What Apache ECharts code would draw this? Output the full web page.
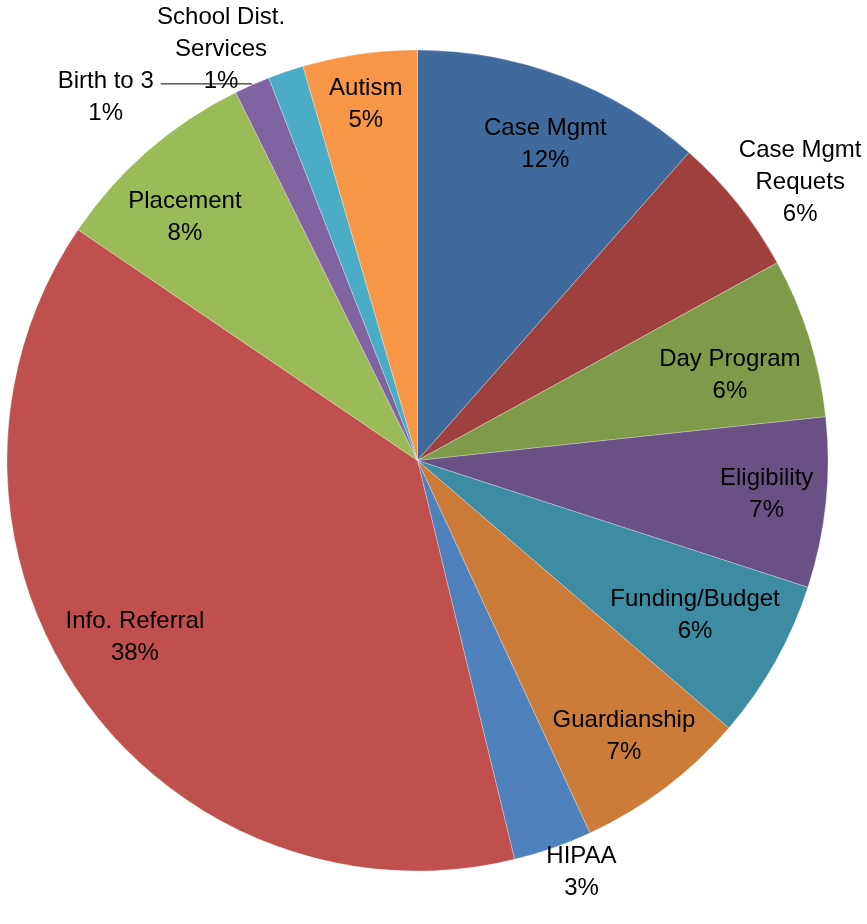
<!DOCTYPE html>
<html>
<head>
<meta charset="utf-8">
<title>Requests by category</title>
<script src="https://cdn.jsdelivr.net/npm/echarts@6/dist/echarts.min.js"></script>
<style>
  html, body { margin: 0; padding: 0; background: #fff; }
  #chart { width: 867px; height: 924px; }
</style>
</head>
<body>
<div id="chart"></div>
<script>
// slices, clockwise from 12 o'clock
const categories = [
    'Case Mgmt', 'Case Mgmt Requets', 'Day Program', 'Eligibility',
    'Funding/Budget', 'Guardianship', 'HIPAA', 'Info. Referral',
    'Placement', 'Birth to 3', 'School Dist. Services', 'Autism'
];
// share of requests (%)
const shares = [11.5, 5.5, 6.3, 6.7, 6.3, 6.8, 3.1, 38.3, 8.2, 1.4, 1.4, 4.5];

const colors = [
    '#416a9c', '#9e413e', '#7f9a48', '#695185', '#3d8ca3', '#cc7b38',
    '#4f81bd', '#c0504d', '#9bbb59', '#8064a2', '#4bacc6', '#f79646'
];

const FONT = '"Liberation Sans", Arial, sans-serif';
const CENTER = [417.5, 460.5];
const R = 410.5;

const wrapped = {
    'Case Mgmt Requets': 'Case Mgmt\nRequets',
    'School Dist. Services': 'School Dist.\nServices'
};
const labelName = name => wrapped[name] || name;
const pctText = p => Math.round(p.percent) + '%';

// labels that sit outside the pie
const outside = {
    'Case Mgmt Requets': { len: 35, len2: -30, width: 120 },
    'HIPAA': { len: 26, len2: -45, width: 120 },
    'School Dist. Services': { len: 24, len2: -13, width: 130 },
    'Birth to 3': { len: 1, len2: 91, width: 100, line: true, padTop: 27 }
};

// little shifts for the labels inside the slices
const insideNudge = {
    'Case Mgmt': [8, 1],
    'Day Program': [-11, 17],
    'Eligibility': [12, -1],
    'Funding/Budget': [-18, -11],
    'Guardianship': [2, 5],
    'Info. Referral': [-4, -16],
    'Placement': [-10, 13],
    'Autism': [-4, -21]
};

const textStyle = { fontFamily: FONT, fontSize: 24, lineHeight: 32, color: '#000' };

document.addEventListener('DOMContentLoaded', () => {
    const chart = echarts.init(document.getElementById('chart'));

    const pieData = categories.map((name, i) => ({
        name: name,
        value: shares[i],
        itemStyle: { color: colors[i] }
    }));

    const insideData = categories.map((name, i) => ({
        name: name,
        value: shares[i],
        label: { show: !outside[name] }
    }));

    const outsideData = categories.map((name, i) => {
        const o = outside[name];
        if (!o) return { name: name, value: shares[i], label: { show: false }, labelLine: { show: false } };
        return {
            name: name,
            value: shares[i],
            label: {
                show: true,
                position: 'outside',
                padding: [o.padTop || 0, 0, 0, 0],
                formatter: p => labelName(p.name).split('\n')
                    .concat(pctText(p))
                    .map(s => '{t|' + s + '}').join('\n'),
                rich: { t: Object.assign({ width: o.width, align: 'center' }, textStyle) }
            },
            labelLine: {
                show: !!o.line,
                length: o.len,
                length2: o.len2,
                lineStyle: { color: '#000', width: 1 }
            }
        };
    });

    const option = {
        backgroundColor: '#fff',
        animation: false,
        series: [
            {
                name: 'slices',
                type: 'pie',
                center: CENTER,
                radius: [0, R],
                startAngle: 90,
                clockwise: true,
                label: { show: false },
                labelLine: { show: false },
                itemStyle: { borderColor: 'rgba(255,255,255,0.45)', borderWidth: 0.6 },
                emphasis: { disabled: true },
                data: pieData
            },
            {
                // ring only used to park the inside labels near the rim
                name: 'inside labels',
                type: 'pie',
                silent: true,
                center: CENTER,
                radius: [261.5, R],
                startAngle: 90,
                clockwise: true,
                itemStyle: { color: 'rgba(0,0,0,0)', borderWidth: 0 },
                label: Object.assign({
                    show: true,
                    position: 'inside',
                    formatter: p => labelName(p.name) + '\n' + pctText(p)
                }, textStyle),
                labelLine: { show: false },
                labelLayout: params => {
                    const n = insideNudge[categories[params.dataIndex]];
                    return n ? { dx: n[0], dy: n[1] } : {};
                },
                emphasis: { disabled: true },
                data: insideData
            },
            {
                name: 'outside labels',
                type: 'pie',
                silent: true,
                center: CENTER,
                radius: [0, R],
                startAngle: 90,
                clockwise: true,
                avoidLabelOverlap: false,
                itemStyle: { color: 'rgba(0,0,0,0)', borderWidth: 0 },
                label: Object.assign({ distanceToLabelLine: 5 }, textStyle),
                emphasis: { disabled: true },
                data: outsideData
            }
        ]
    };

    chart.setOption(option);
    window.addEventListener('resize', () => chart.resize());
});
</script>
</body>
</html>
